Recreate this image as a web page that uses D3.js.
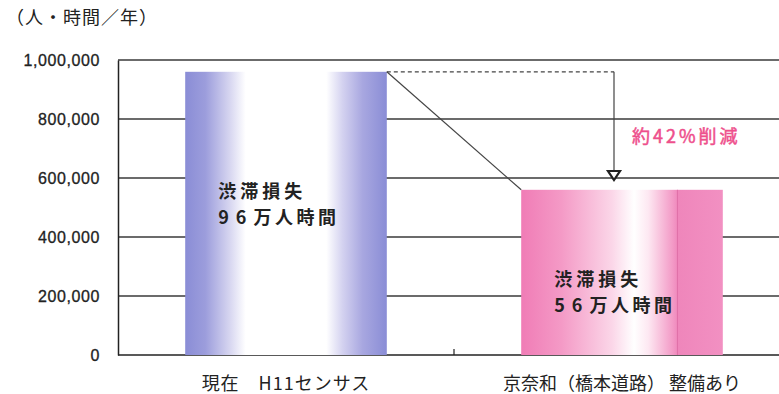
<!DOCTYPE html>
<html>
<head>
<meta charset="utf-8">
<script src="https://cdn.jsdelivr.net/npm/d3@7"></script>
<style>
  html, body { margin: 0; padding: 0; background: #fff; }
  svg { display: block; font-family: "Noto Sans CJK JP", "Noto Sans", sans-serif; }
</style>
</head>
<body>
<svg id="chart" width="779" height="394"></svg>
<script>
// Annual congestion loss (person-hours per year)
const categories = ["現在\u3000H11センサス", "京奈和（橋本道路） 整備あり"];
const values = [960000, 560000];
const barLabelTop = ["渋滞損失", "渋滞損失"];
const barLabelNum = ["96", "56"];
const barLabelUnit = ["万人時間", "万人時間"];
const yTicks = [0, 200000, 400000, 600000, 800000, 1000000];
const unitLabel = "（人・時間／年）";
const reductionLabel = "約42%削減";

const svg = d3.select("#chart");
const W = 779;
const plotLeft = 118, plotTop = 60, plotBottom = 355;

const y = d3.scaleLinear().domain([0, 1000000]).range([plotBottom, plotTop]);
const x = d3.scaleBand().domain(categories).range([plotLeft, 790])
  .paddingInner(0.4).paddingOuter(0.2);

// gradients
const defs = svg.append("defs");
const gBlue = defs.append("linearGradient").attr("id", "gBlue");
[[0, "#8a8dd6"], [0.1, "#9c9ddc"], [0.22, "#d6d5f0"], [0.3, "#ffffff"],
 [0.7, "#ffffff"], [0.78, "#d4d2f0"], [0.88, "#a8a7e0"], [1, "#8a8dd6"]]
  .forEach(([o, c]) => gBlue.append("stop").attr("offset", o).attr("stop-color", c));
const gPink = defs.append("linearGradient").attr("id", "gPink");
[[0, "#f07cb6"], [0.2, "#f49ac6"], [0.45, "#fbd6e8"], [0.56, "#ffffff"],
 [0.63, "#fde8f2"], [0.75, "#f39bc7"], [0.78, "#ef86bb"], [1, "#f290c2"]]
  .forEach(([o, c]) => gPink.append("stop").attr("offset", o).attr("stop-color", c));
const fills = ["url(#gBlue)", "url(#gPink)"];

// gridlines
svg.append("g").selectAll("line").data(yTicks.filter(d => d > 0)).join("line")
  .attr("x1", plotLeft).attr("x2", W)
  .attr("y1", d => y(d)).attr("y2", d => y(d))
  .attr("stroke", "#3a3a3a").attr("stroke-width", 1.5);

// y axis
const yAxis = d3.axisLeft(y).tickValues(yTicks).tickSize(0).tickPadding(18)
  .tickFormat(d3.format(","));
const ya = svg.append("g").attr("transform", `translate(${plotLeft},0)`).call(yAxis);
ya.select(".domain").attr("stroke", "#222").attr("stroke-width", 1.5);
ya.selectAll("text").attr("font-size", 16).attr("fill", "#222")
  .attr("letter-spacing", 0.6).attr("stroke", "#222").attr("stroke-width", 0.3);

// baseline and category separator
svg.append("line").attr("x1", plotLeft).attr("x2", W).attr("y1", plotBottom).attr("y2", plotBottom)
  .attr("stroke", "#222").attr("stroke-width", 1.5);
const sep = x(categories[1]) - x.step() * x.paddingInner() / 2;
svg.append("line").attr("x1", sep).attr("x2", sep).attr("y1", plotBottom - 6).attr("y2", plotBottom)
  .attr("stroke", "#222").attr("stroke-width", 1.2);

// bars
svg.append("g").selectAll("rect").data(values).join("rect")
  .attr("x", (d, i) => x(categories[i]))
  .attr("y", d => y(d))
  .attr("width", x.bandwidth())
  .attr("height", d => plotBottom - y(d))
  .attr("fill", (d, i) => fills[i]);
// divider line inside second bar
const b2x = x(categories[1]) + x.bandwidth() * 0.775;
svg.append("line").attr("x1", b2x).attr("x2", b2x)
  .attr("y1", y(values[1])).attr("y2", plotBottom)
  .attr("stroke", "#e070a8").attr("stroke-width", 1);

// bar labels
values.forEach((v, i) => {
  const bx = x(categories[i]);
  const lx = bx + 33;
  const ly = i === 0 ? 198 : 286;
  svg.append("text").attr("x", lx).attr("y", ly)
    .attr("font-size", 18).attr("font-weight", "bold").attr("fill", "#222")
    .attr("letter-spacing", 4).text(barLabelTop[i]);
  const t = svg.append("text").attr("x", lx).attr("y", ly + 26)
    .attr("font-size", 18).attr("font-weight", "bold").attr("fill", "#222");
  t.append("tspan").attr("letter-spacing", 7).text(barLabelNum[i]);
  t.append("tspan").attr("letter-spacing", 3.5).text(barLabelUnit[i]);
});

// connector from first bar to second bar
const x1r = x(categories[0]) + x.bandwidth();
const x2l = x(categories[1]);
const arrowX = 614;
svg.append("line").attr("x1", x1r).attr("y1", y(values[0]))
  .attr("x2", x2l).attr("y2", y(values[1]))
  .attr("stroke", "#444").attr("stroke-width", 1.2);
svg.append("line").attr("x1", x1r).attr("y1", y(values[0]))
  .attr("x2", arrowX).attr("y2", y(values[0]))
  .attr("stroke", "#444").attr("stroke-width", 1.2).attr("stroke-dasharray", "4,3");
const tipY = y(600000) + 2;
svg.append("line").attr("x1", arrowX).attr("y1", y(values[0]))
  .attr("x2", arrowX).attr("y2", tipY - 8)
  .attr("stroke", "#444").attr("stroke-width", 1.2);
svg.append("path")
  .attr("d", `M${arrowX - 6},${tipY - 9} L${arrowX + 6},${tipY - 9} L${arrowX},${tipY} Z`)
  .attr("fill", "#fff").attr("stroke", "#222").attr("stroke-width", 2.2);

svg.append("text").attr("x", 632).attr("y", 143)
  .attr("font-size", 18).attr("fill", "#ee4f8c").attr("letter-spacing", 3)
  .attr("stroke", "#ee4f8c").attr("stroke-width", 0.5)
  .text(reductionLabel);

// category labels
categories.forEach((c, i) => {
  svg.append("text").attr("x", x(c) + x.bandwidth() / 2).attr("y", 390)
    .attr("text-anchor", "middle").attr("font-size", 18).attr("fill", "#222")
    .attr("letter-spacing", i === 0 ? 1 : 0)
    .text(c);
});

// unit label
svg.append("text").attr("x", 6).attr("y", 24)
  .attr("font-size", 18).attr("fill", "#222").attr("letter-spacing", 1).text(unitLabel);
</script>
</body>
</html>
